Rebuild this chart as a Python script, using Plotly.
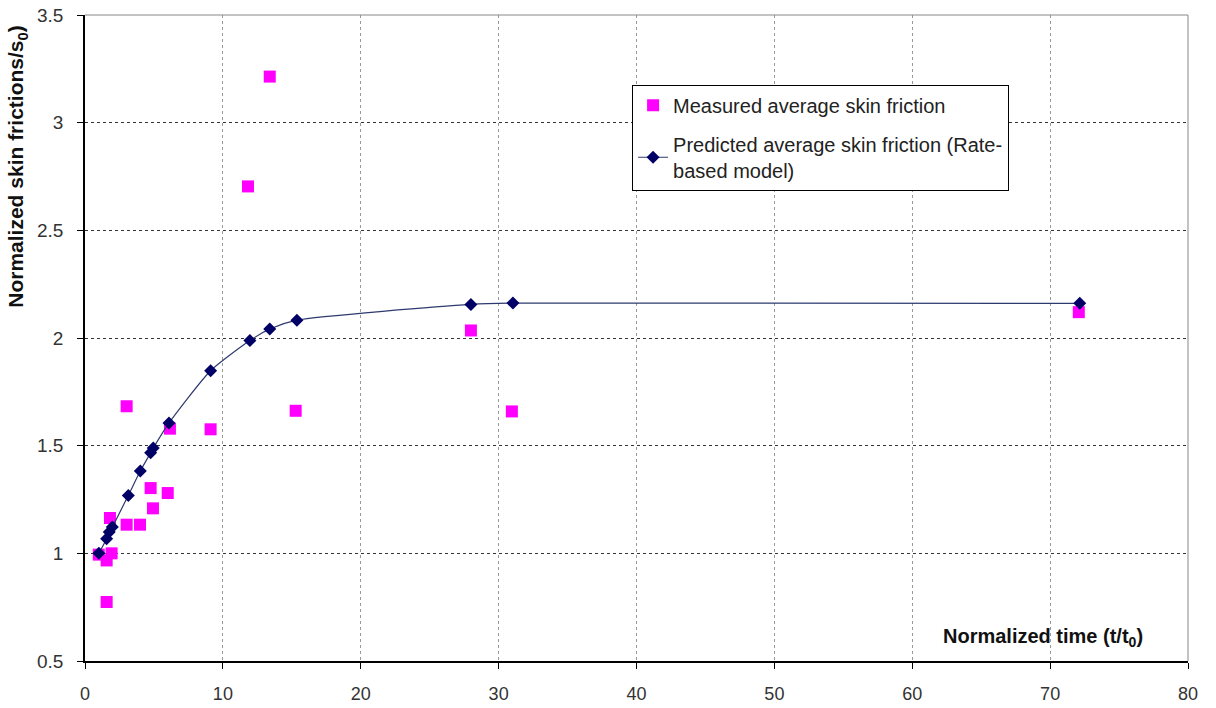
import plotly.graph_objects as go

# Measured average skin friction
meas_x = [1.0, 1.57, 1.57, 1.81, 1.93, 3.02, 3.02, 3.99, 4.76, 4.93, 6.0, 6.16, 9.11, 11.82, 13.4, 15.28, 27.99, 30.96, 72.08]
meas_y = [0.994, 0.774, 0.967, 1.164, 1.0, 1.683, 1.133, 1.133, 1.303, 1.209, 1.28, 1.579, 1.576, 2.704, 3.214, 1.662, 2.035, 1.659, 2.12]

# Predicted average skin friction (rate-based model)
pred_x = [1.0, 1.57, 1.76, 1.98, 3.14, 4.01, 4.76, 4.95, 6.09, 9.11, 11.96, 13.4, 15.37, 27.99, 31.04, 72.15]
pred_y = [1.0, 1.068, 1.099, 1.122, 1.269, 1.382, 1.467, 1.489, 1.605, 1.848, 1.988, 2.042, 2.083, 2.156, 2.162, 2.161]

x_ticks = [0, 10, 20, 30, 40, 50, 60, 70, 80]
y_ticks = [0.5, 1, 1.5, 2, 2.5, 3, 3.5]

FONT = "Liberation Sans, Arial, sans-serif"

fig = go.Figure()
fig.add_trace(go.Scatter(
    x=meas_x, y=meas_y, mode="markers", name="Measured average skin friction",
    legendgroup="a",
    marker=dict(symbol="square", size=12, color="#FF00FF"),
))
fig.add_trace(go.Scatter(
    x=pred_x, y=pred_y, mode="lines+markers",
    name="Predicted average skin friction (Rate-<br>based model)",
    legendgroup="b",
    line=dict(color="#2E3A6E", width=1.2, shape="spline", smoothing=0.6),
    marker=dict(symbol="diamond", size=10, color="#000066"),
))

fig.update_layout(
    width=1216, height=708,
    margin=dict(l=85, r=28, t=15, b=47),
    paper_bgcolor="white", plot_bgcolor="white",
    font=dict(family=FONT, size=18, color="#222222"),
    showlegend=True,
    legend=dict(
        x=0.496, y=0.892, xanchor="left", yanchor="top",
        bordercolor="black", borderwidth=1, bgcolor="white",
        font=dict(family=FONT, size=20, color="#222222"),
        tracegroupgap=10,
    ),
    xaxis=dict(
        range=[0, 80], tickvals=x_ticks, ticks="outside", ticklen=6, tickcolor="black",
        showline=True, linecolor="black", linewidth=1.5, mirror=False,
        showgrid=True, gridcolor="#999999", griddash="dot", gridwidth=1,
        zeroline=False, tickfont=dict(size=18, color="#333333"),
        ticklabelstandoff=10, automargin=False,
    ),
    yaxis=dict(
        range=[0.5, 3.5], tickvals=y_ticks, ticks="outside", ticklen=6, tickcolor="black",
        showline=True, linecolor="black", linewidth=1.5,
        showgrid=True, gridcolor="#333333", griddash="dot", gridwidth=1,
        zeroline=False, tickfont=dict(size=19, color="#333333"),
        ticklabelstandoff=10, automargin=False,
    ),
    shapes=[
        dict(type="line", xref="paper", yref="paper", x0=0, x1=1, y0=1, y1=1,
             line=dict(color="#888888", width=1)),
        dict(type="line", xref="paper", yref="paper", x0=1, x1=1, y0=0, y1=1,
             line=dict(color="#888888", width=1)),
    ],
    annotations=[
        dict(text="<b>Normalized skin frictions/s<sub>0</sub>)</b>", xref="paper", yref="paper",
             x=-0.0617, y=0.765, xanchor="center", yanchor="middle", textangle=-90,
             showarrow=False, font=dict(family=FONT, size=21, color="#111111")),
        dict(text="<b>Normalized time (t/t<sub>0</sub>)</b>", xref="paper", yref="paper",
             x=0.8685, y=0.037, xanchor="center", yanchor="middle",
             showarrow=False, font=dict(family=FONT, size=20, color="#111111")),
    ],
)

fig.write_html("out.html")
